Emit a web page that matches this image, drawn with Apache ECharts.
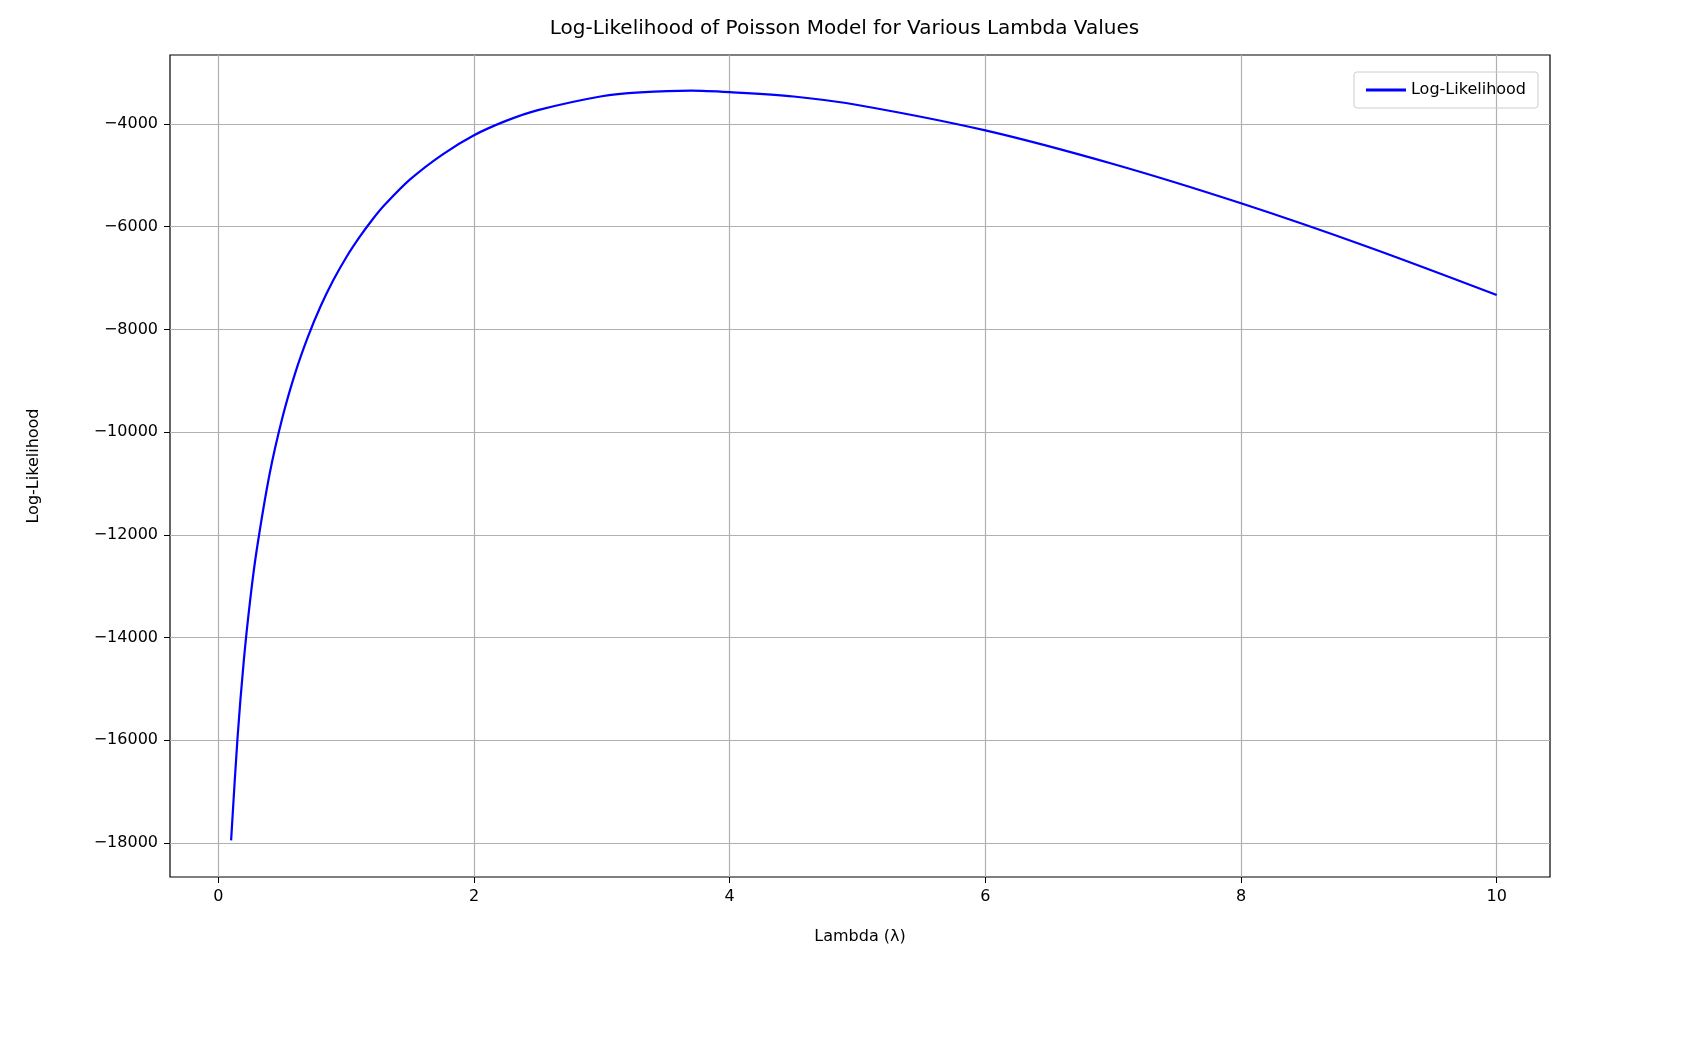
<!DOCTYPE html>
<html>
<head>
<meta charset="utf-8">
<script src="https://cdn.jsdelivr.net/npm/echarts@6/dist/echarts.min.js"></script>
<style>html,body{margin:0;padding:0;background:#fff}#main{width:1689px;height:1046px}</style>
</head>
<body>
<div id="main"></div>
<script>
// values
var lambdas = [0.1, 0.15, 0.2, 0.25, 0.3, 0.4, 0.5, 0.6, 0.7, 0.8, 0.9, 1.0, 1.1, 1.2, 1.3, 1.5, 1.75, 2.0, 2.25, 2.5, 3.0, 3.3, 3.7, 4.0, 4.5, 5.0, 6.0, 7.0, 8.0, 9.0, 10.0];
var logLik = [-17950, -15960, -14430, -13250, -12300, -10830, -9730, -8860, -8150, -7550, -7040, -6600, -6220, -5880, -5580, -5080, -4600, -4220, -3940, -3730, -3460, -3385, -3350, -3380, -3465, -3630, -4125, -4780, -5545, -6400, -7330];
var xTicks = [0, 2, 4, 6, 8, 10];
var yTicks = [-18000, -16000, -14000, -12000, -10000, -8000, -6000, -4000];

var font = "DejaVu Sans";
var seriesData = lambdas.map(function (l, i) { return [l, logLik[i]]; });

var myChart = echarts.init(document.getElementById("main"));
myChart.setOption({
  animation: false,
  title: {
    text: "Log-Likelihood of Poisson Model for Various Lambda Values",
    left: "center",
    top: 14,
    textStyle: { fontFamily: font, fontSize: 20, fontWeight: "normal", color: "#000" },
  },
  legend: {
    right: 151,
    top: 72,
    itemWidth: 40,
    itemHeight: 3,
    padding: [10, 12],
    borderColor: "#ccc",
    borderWidth: 1,
    borderRadius: 3,
    textStyle: { fontFamily: font, fontSize: 16, color: "#000" },
    data: [{ name: "Log-Likelihood", icon: "rect" }],
  },
  grid: {
    left: 170, right: 139, top: 55, bottom: 169,
    show: true, borderColor: "#000", borderWidth: 1.2,
  },
  xAxis: {
    type: "value",
    min: -0.378, max: 10.417,
    name: "Lambda (λ)",
    nameLocation: "middle",
    nameGap: 52,
    nameTextStyle: { fontFamily: font, fontSize: 16, color: "#000" },
    axisLine: { show: false, onZero: false },
    axisTick: { show: true, customValues: xTicks, length: 6, lineStyle: { color: "#000" } },
    axisLabel: { customValues: xTicks, fontFamily: font, fontSize: 16, color: "#000", margin: 12 },
    splitLine: { show: true, lineStyle: { color: "#b0b0b0", width: 1.2 } },
  },
  yAxis: {
    type: "value",
    min: -18662, max: -2657,
    name: "Log-Likelihood",
    nameLocation: "middle",
    nameGap: 128,
    nameTextStyle: { fontFamily: font, fontSize: 16, color: "#000" },
    axisLine: { show: false, onZero: false },
    axisTick: { show: true, customValues: yTicks, length: 6, lineStyle: { color: "#000" } },
    axisLabel: {
      customValues: yTicks, fontFamily: font, fontSize: 16, color: "#000", margin: 12,
      formatter: function (v) { return String(v).replace("-", "\u2212"); },
    },
    splitLine: { show: true, lineStyle: { color: "#b0b0b0", width: 1.2 } },
  },
  series: [
    {
      name: "Log-Likelihood",
      type: "line",
      smooth: 0.3,
      showSymbol: false,
      data: seriesData,
      color: "#0000ff",
      lineStyle: { color: "#0000ff", width: 2.2 },
    },
  ],
});
</script>
</body>
</html>
